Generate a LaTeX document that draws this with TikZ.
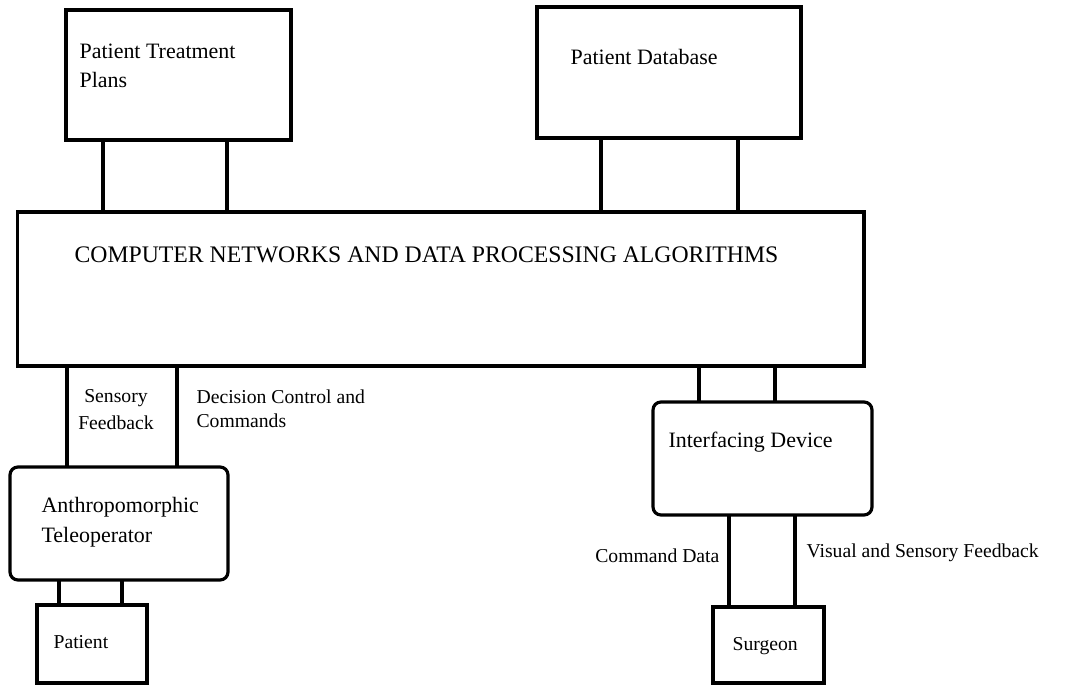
\documentclass[tikz,border=0pt]{standalone}
\usepackage{fontspec}
\setmainfont{Liberation Serif}
\usetikzlibrary{positioning}

\begin{document}
\begin{tikzpicture}[x=0.02cm, y=-0.02cm,
		every path/.style = {line width=1.8pt},
		blok/.style args = {#1/#2}{%
		rectangle, draw, line width=1.8pt, inner sep=0pt, outer sep=0pt,
		minimum width=#1cm, minimum height=#2cm},
		rblok/.style args = {#1/#2}{%
		blok=#1/#2, rounded corners=4.5pt},
		txt/.style = {inner sep=0pt, anchor=base west, align=left,
		font=\fontsize{12.5}{17}\selectfont},
		lbl/.style = {inner sep=0pt, anchor=base west, align=left,
		font=\fontsize{11.2}{14.5}\selectfont}
                    ]
		\useasboundingbox (0,0) rectangle (1068,685);

		% boxes
		\node(TP)  [blok=4.5/2.6]    at (178.5, 75)  {};
		\node(DB)  [blok=5.28/2.62]  at (669, 72.5)  {};
		\node(NET) [blok=16.94/3.08] at (440.5, 289) {};
		\node(AT)  [rblok=4.36/2.26] at (119, 523.5) {};
		\node(ID)  [rblok=4.38/2.26] at (762.5, 458.5) {};
		\node(PA)  [blok=2.2/1.56]   at (92, 644)    {};
		\node(SU)  [blok=2.22/1.52]  at (768.5, 645) {};

		% box texts (multi-line: base is the last line)
		\node(TPt)  [txt] at (78, 88)  {Patient Treatment\\Plans};
		\node(DBt)  [txt] at (569, 65) {Patient Database};
		\node(NETt) [txt, font=\fontsize{13.5}{17}\selectfont] at (73, 263)
			{COMPUTER NETWORKS AND DATA PROCESSING ALGORITHMS};
		\node(ATt)  [txt] at (40, 542)  {Anthropomorphic\\Teleoperator};
		\node(IDt)  [txt] at (667, 448) {Interfacing Device};
		\node(PAt)  [lbl] at (52, 648)  {Patient};
		\node(SUt)  [lbl] at (731, 650) {Surgeon};

		% connector labels
		\node(sf) [lbl, anchor=base, align=center,
			font=\fontsize{11.2}{15.4}\selectfont] at (116, 430) {Sensory\\Feedback};
		\node(dc) [lbl, font=\fontsize{11.2}{13.7}\selectfont] at (195, 428)
			{Decision Control and\\Commands};
		\node(cd) [lbl, anchor=base east] at (721, 562) {Command Data};
		\node(vs) [lbl] at (805, 557) {Visual and Sensory Feedback};

		% connectors
		\draw (TP.south -| 103,0) -- (NET.north -| 103,0);
		\draw (TP.south -| 227,0) -- (NET.north -| 227,0);
		\draw (DB.south -| 601,0) -- (NET.north -| 601,0);
		\draw (DB.south -| 738,0) -- (NET.north -| 738,0);
		\draw (NET.south -| 67,0) -- (AT.north -| 67,0);
		\draw (NET.south -| 177,0) -- (AT.north -| 177,0);
		\draw (AT.south -| 59,0) -- (PA.north -| 59,0);
		\draw (AT.south -| 122,0) -- (PA.north -| 122,0);
		\draw (NET.south -| 699,0) -- (ID.north -| 699,0);
		\draw (NET.south -| 775,0) -- (ID.north -| 775,0);
		\draw (ID.south -| 729,0) -- (SU.north -| 729,0);
		\draw (ID.south -| 795,0) -- (SU.north -| 795,0);
	\end{tikzpicture}
\end{document}
